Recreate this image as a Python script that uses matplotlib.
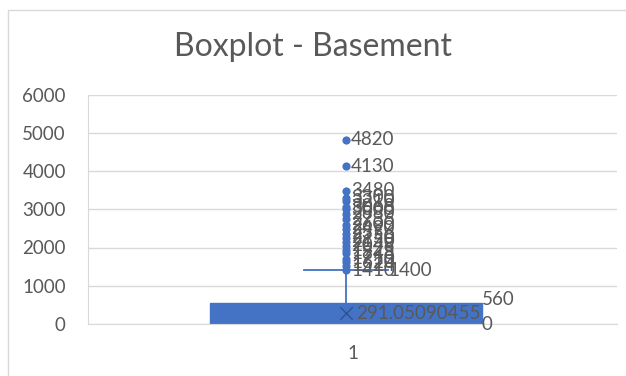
import matplotlib.pyplot as plt
from matplotlib.patches import Rectangle

# box statistics (Excel box & whisker, exclusive quartiles)
q1 = 0
median = 0
q3 = 560
whisker_low = 0
whisker_high = 1400
mean = 291.05090455
outliers = [1410, 1524, 1620, 1710, 1848, 1925, 2048, 2150, 2250, 2356, 2490,
            2600, 2736, 2880, 3000, 3068, 3210, 3300, 3480, 4130, 4820]
category = ['1']
yticks = [0, 1000, 2000, 3000, 4000, 5000, 6000]

BLUE = '#4472C4'
TEXT = '#595959'
GRID = '#D9D9D9'


def run():
    plt.rcParams['font.family'] = ['Lato', 'DejaVu Sans']
    fig = plt.figure(figsize=(6.26, 3.76), dpi=100)
    # chart border (cropped on the right and bottom)
    fig.add_artist(Rectangle((8 / 626, -0.1), 1.2, 1.1 - 10 / 376,
                             transform=fig.transFigure, fill=False,
                             edgecolor=GRID, linewidth=1))
    ax = fig.add_axes([88 / 626, 1 - 324 / 376, (617 - 88) / 626, (324 - 94.5) / 376])

    pos = 0.975
    box_w = 1.028
    cap_w = 0.16

    ax.add_patch(Rectangle((pos - box_w / 2, q1), box_w, q3 - q1,
                           facecolor=BLUE, edgecolor=BLUE, zorder=2))
    ax.plot([pos, pos], [q3, whisker_high], color=BLUE, lw=1.3, zorder=3)
    ax.plot([pos - cap_w, pos + cap_w], [whisker_high, whisker_high], color=BLUE, lw=1.3, zorder=3)
    ax.scatter([pos], [mean], marker='x', s=80, color='#2F528F', linewidths=1.0, zorder=4)
    ax.scatter([pos] * len(outliers), outliers, s=24, color=BLUE, zorder=4)

    # data labels
    lab = dict(fontsize=13.5, color=TEXT, va='center', ha='left', zorder=5)
    for v in outliers:
        ax.text(pos + 0.02, v, str(v), **lab)
    ax.text(pos + cap_w, whisker_high, str(whisker_high), **lab)
    ax.text(pos + 0.04, mean - 20, str(mean), **lab)
    ax.text(pos + box_w / 2, q3 + 80, str(q3), **lab)
    ax.text(pos + box_w / 2, median - 10, str(median), **lab)

    ax.set_xlim(0, 2)
    ax.set_ylim(0, 6000)
    ax.set_yticks(yticks)
    ax.set_xticks([1])
    ax.set_xticklabels(category)
    ax.tick_params(axis='both', length=0, labelsize=13.5, colors=TEXT)
    ax.tick_params(axis='x', pad=15)
    ax.tick_params(axis='y', pad=16)
    ax.yaxis.grid(True, color=GRID, lw=1)
    ax.set_axisbelow(True)
    for side in ['top', 'right']:
        ax.spines[side].set_visible(False)
    ax.spines['left'].set_color(GRID)
    ax.spines['bottom'].set_color(GRID)

    fig.text(0.5, 1 - 47 / 376, 'Boxplot - Basement', ha='center', va='center',
             fontsize=23, color=TEXT)
    fig.savefig('out.png', dpi=100)


if __name__ == '__main__':
    run()
